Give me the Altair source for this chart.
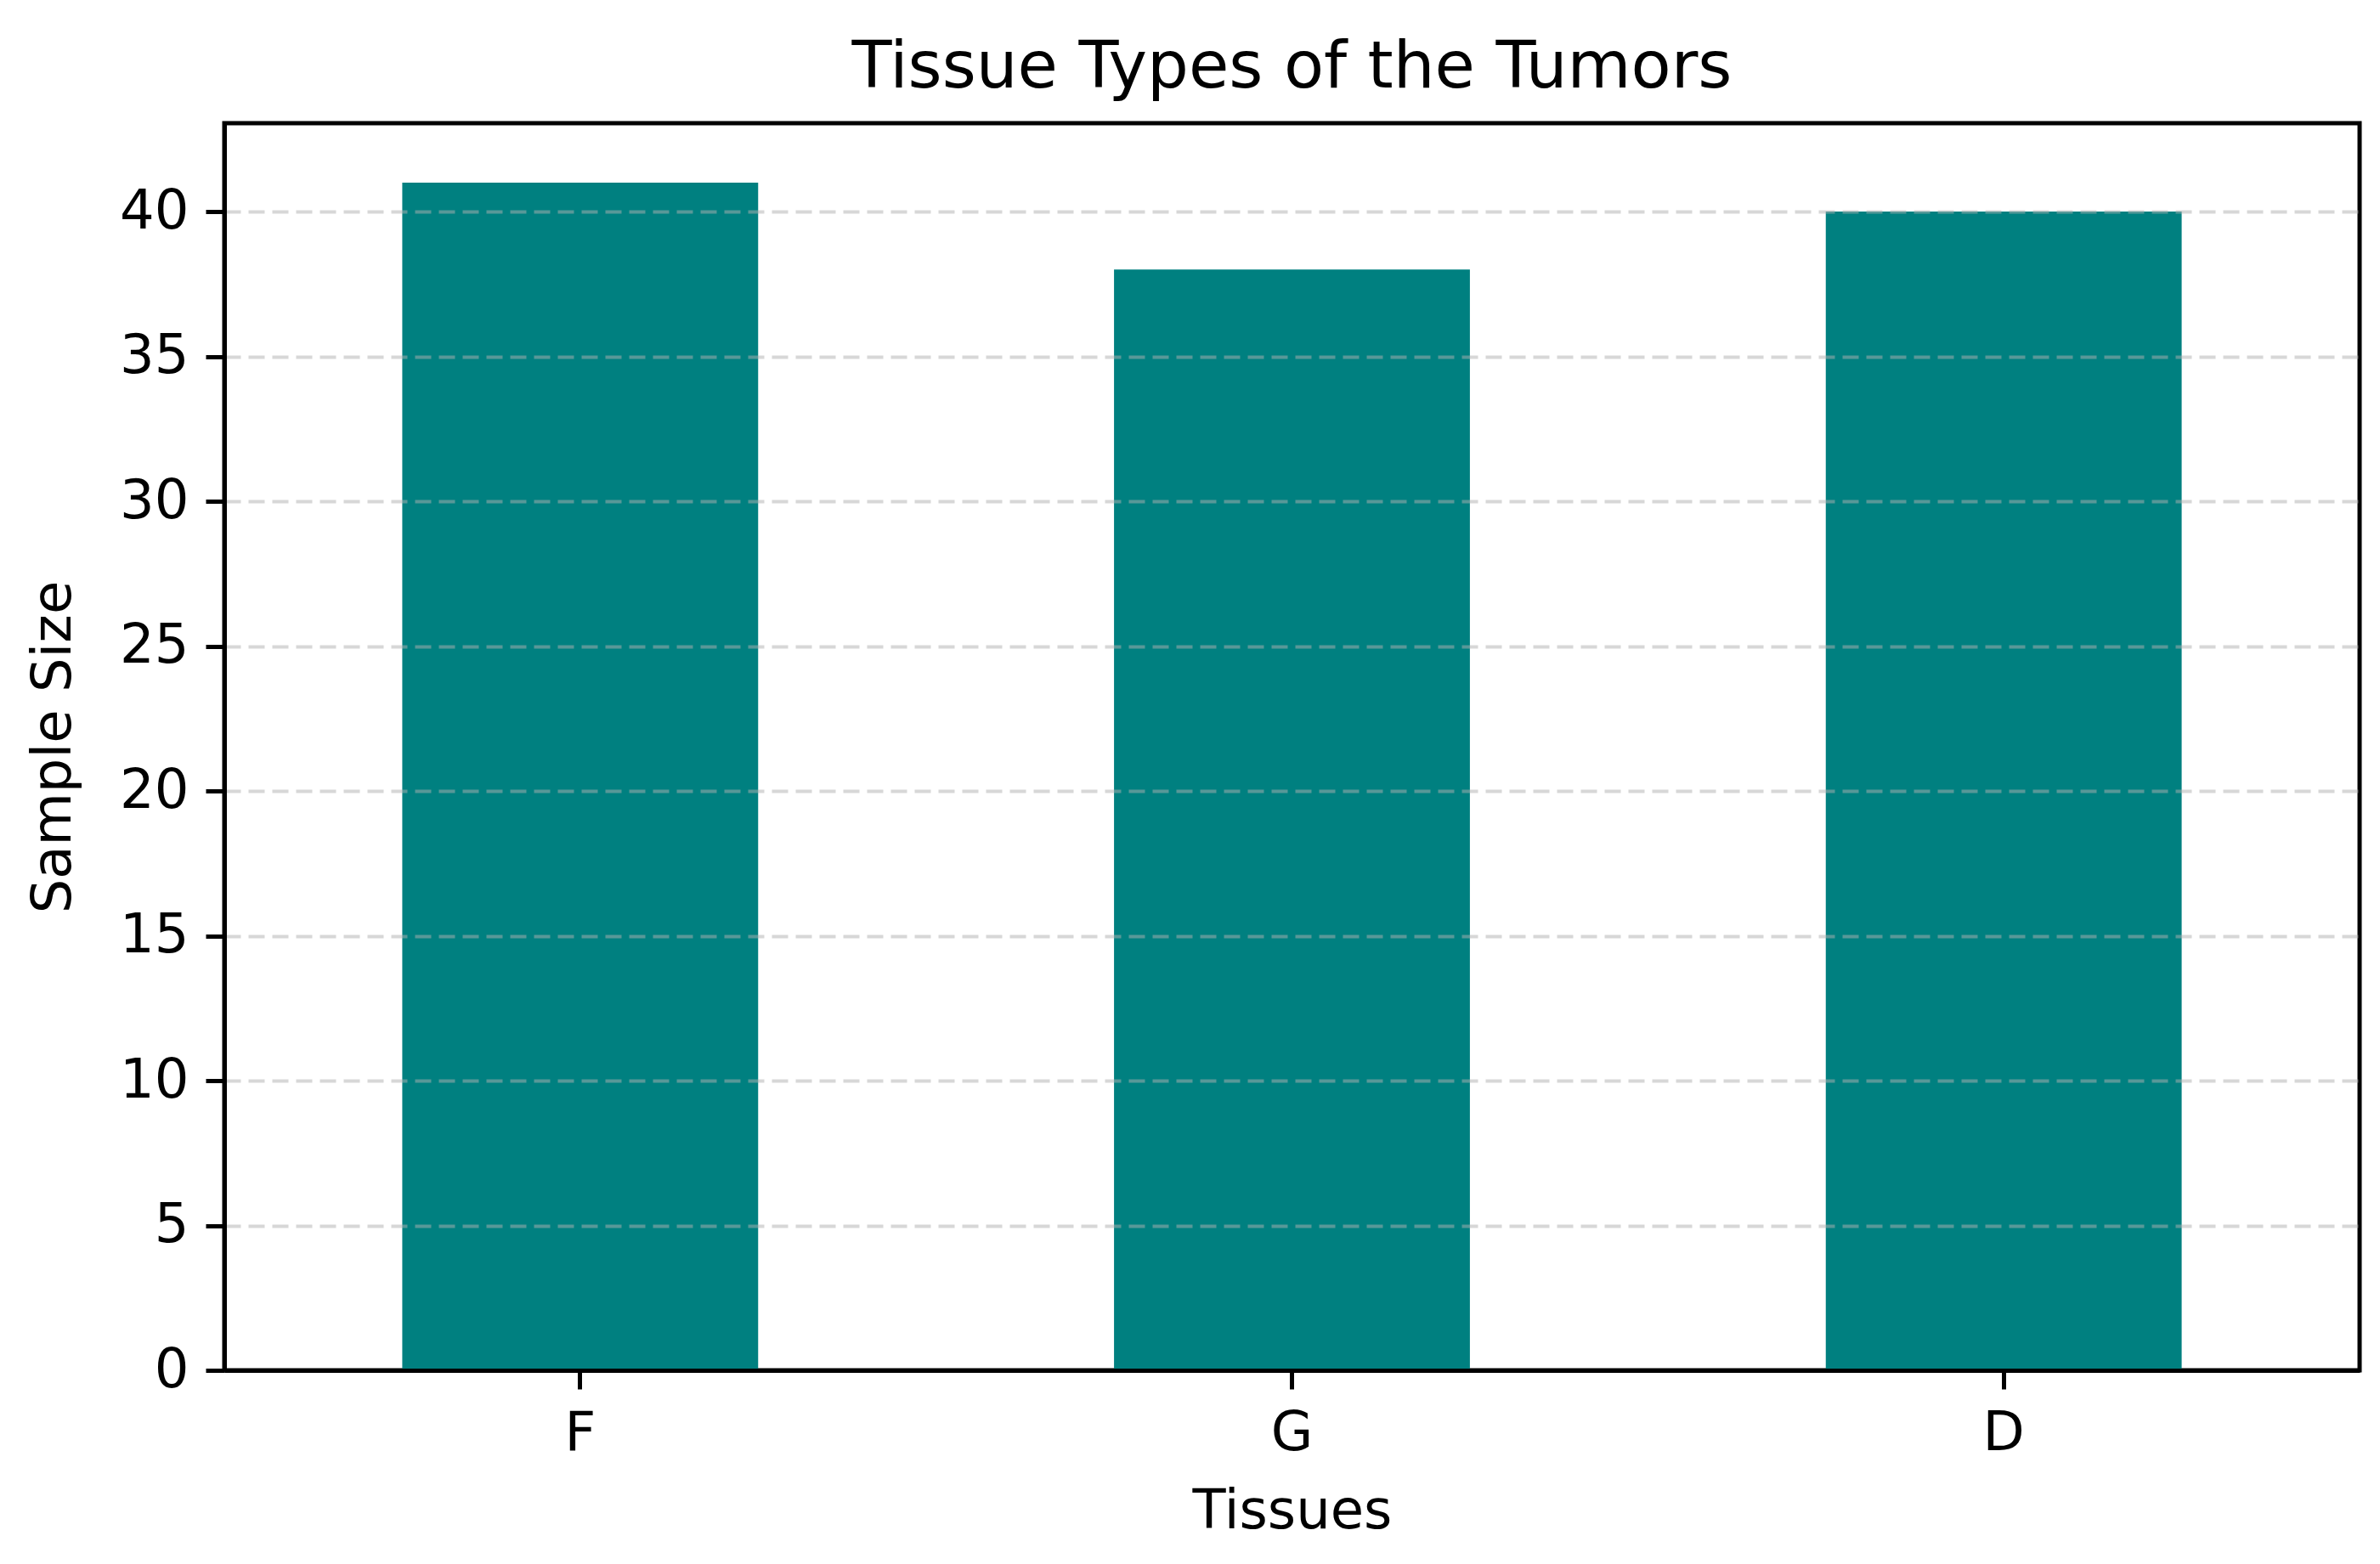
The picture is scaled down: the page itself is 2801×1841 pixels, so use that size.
import altair as alt
import pandas as pd

tissues = ["F", "G", "D"]
sample_sizes = [41, 38, 40]
y_ticks = [0, 5, 10, 15, 20, 25, 30, 35, 40]

df = pd.DataFrame({"Tissues": tissues, "Sample Size": sample_sizes})

W, H = 2513, 1468
FONT = "DejaVu Sans"

chart = alt.Chart(df).mark_bar(color="#008080").encode(
    x=alt.X("Tissues:N", sort=tissues,
            scale=alt.Scale(paddingInner=0.5, paddingOuter=0.25),
            axis=alt.Axis(title="Tissues", labelAngle=0, labelFontSize=64, labelFont=FONT,
                          labelColor="black", labelPadding=20, tickSize=22, tickWidth=5,
                          tickColor="black", domainColor="black", domainWidth=5,
                          titleFontSize=64, titleFont=FONT, titleFontWeight="normal",
                          titleColor="black", titleX=W / 2, titleY=166,
                          titleBaseline="middle", grid=False, zindex=1)),
    y=alt.Y("Sample Size:Q", scale=alt.Scale(domain=[0, 43.05], nice=False, zero=True),
            axis=alt.Axis(title="Sample Size", values=y_ticks, labelFontSize=64, labelFont=FONT,
                          labelColor="black", labelPadding=20, tickSize=22, tickWidth=5,
                          tickColor="black", domainColor="black", domainWidth=5,
                          titleFontSize=64, titleFont=FONT, titleFontWeight="normal",
                          titleColor="black", titleX=-201, titleY=H / 2, titleAngle=-90,
                          titleBaseline="middle", titleAlign="center",
                          grid=True, gridDash=[19, 9], gridColor="#b0b0b0", gridOpacity=0.5,
                          gridWidth=4, zindex=1)),
).properties(
    width=W, height=H,
    title=alt.TitleParams("Tissue Types of the Tumors", fontSize=77, font=FONT,
                          fontWeight="normal", color="black", anchor="middle", offset=26),
    autosize=alt.AutoSizeParams(type="none"),
    padding={"left": 256, "top": 137, "right": 16, "bottom": 224},
).configure_view(stroke="black", strokeWidth=5)

chart.save("out.html", embed_options={"renderer": "svg", "actions": False})
